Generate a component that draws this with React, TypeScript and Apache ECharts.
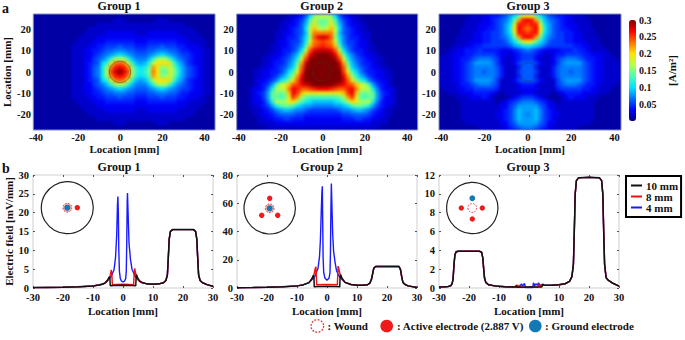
import React, { useEffect, useRef } from "react";
import * as echarts from "echarts";

const FONT = "'Liberation Serif','Times New Roman',serif";
const xCats = ["-40","-38","-36","-34","-32","-30","-28","-26","-24","-22","-20","-18","-16","-14","-12","-10","-8","-6","-4","-2","0","2","4","6","8","10","12","14","16","18","20","22","24","26","28","30","32","34","36","38","40","42","44"];
const xCats3 = xCats.slice(0, 42);
const yCats = ["-26","-24","-22","-20","-18","-16","-14","-12","-10","-8","-6","-4","-2","0","2","4","6","8","10","12","14","16","18","20","22","24","26"];

// Current density in hundredths of A/m², one base-36 digit per cell, rows from y=26 down to y=-26.
const field1 = [
  "111111111111 1111 1 1111111 111 1111111 111111111",
  "111111111111 1111 1 1122211 111 1122211 111111111",
  "111111111111 1112 2 2222222 222 2222222 221111111",
  "111111111111 1222 2 2222222 222 2222222 222211111",
  "111111111111 2222 2 3333333 222 3333333 222221111",
  "111111111112 2223 3 3333333 333 3333333 332222111",
  "111111111122 2233 3 4444444 333 4444444 333222211",
  "111111111222 2334 4 5556555 444 5556555 443332211",
  "111111111222 3344 5 6677766 555 6677766 544333221",
  "111111111222 3345 6 789a987 666 789a987 655433221",
  "111111111222 3356 7 9cgggc9 777 9cgggc9 765433221",
  "111111111222 3456 a cinonic 989 chkkkic 975433221",
  "111111111222 3467 b gnqrqng bab emjfgie a86543221",
  "111111111222 3467 b gpsuspg cbc fnkeeif b86543221",
  "111111111222 3467 b gnqrqng bab emjfgie a86543221",
  "111111111222 3456 a cinonic 989 chkkkic 975433221",
  "111111111222 3356 7 9cgggc9 777 9cgggc9 765433221",
  "111111111222 3345 6 789a987 666 789a987 655433221",
  "111111111222 3344 5 6677766 555 6677766 544333221",
  "111111111222 2334 4 5556555 444 5556555 443332211",
  "111111111122 2233 3 4444444 333 4444444 333222211",
  "111111111112 2223 3 3333333 333 3333333 332222111",
  "111111111111 2222 2 3333333 222 3333333 222221111",
  "111111111111 1222 2 2222222 222 2222222 222211111",
  "111111111111 1112 2 2222222 222 2222222 221111111",
  "111111111111 1111 1 1122211 111 1122211 111111111",
  "111111111111 1111 1 1111111 111 1111111 111111111",
];
const field2 = [
  "11111111111122346afh hhfa64322 11111111111111",
  "11111111111223458dif efid854322 1111111111111",
  "11111111112233469fjf efjf9643322 111111111111",
  "1111111111223456ahli gilha654322 111111111111",
  "11111111122334569hnn nnnh96543322 11111111111",
  "11111111122344 57agor sroga7544322 11111111111",
  "11111111123345 57bino ponib7554332 11111111111",
  "111111112233 4568dlop qpold86543322 1111111111",
  "11111111223445 7ahors ssroha7544322 1111111111",
  "111111122334579emrtu uutrme97543322 111111111",
  "1111112233 4568biptuu uuutpib86543322 11111111",
  "11111122344579emsuuu uuuusme97544322 11111111",
  "11111223345 68agotuuu uuuutoga86543322 1111111",
  "11112233445 7adjpuuuu uuuuupjda75443322 111111",
  "11112233457 9cgmruuuu uuuuurmgc97543322 111111",
  "111123345 7acfjosuuuu uuuuusojfca754332 111111",
  "111123458dhiloprstuu uuutsrpolihd85432 111111",
  "11123347bghinrqoopqr rrqpooqrnihgb74332 11111",
  "11123458efeflrpljjjj jjjjjlprlfefe85432 11111",
  "11123358eedejpmgeddd ddddegmpjedee85332 11111",
  "11123347bhggjkgdba99 999abdgkjgghb74332 11111",
  "111223458bdeeda98877 777889adeedb854322 11111",
  "11112234578998776555 55556778998754322 111111",
  "11112233456666554444 44444556666543322 111111",
  "11111223344554443333 3333344455443322 1111111",
  "11111222233333333333 3333333333332222 1111111",
  "11111112222222222222 22222222222222 111111111",
];
const field3 = [
  "11111112223344568aei kiea8654433222 11111111",
  "1111112222334 5679emq rqme976543 32222 1111111",
  "111111222333456 8aiqq pqqia8654333222 1111111",
  "1111122223344568bkrp nprkb86544332222 111111",
  "11111222334455 68aiqq pqqia86554433222 111111",
  "11112222334455679emq rqme9765544332222 11111",
  "11112223334455568aei kiea8655544333222 11111",
  "11122233445555556 89a ba9865555554433222 1111",
  "11223344454444333456 7654333344454432222 111",
  "12233344555554332345 5543223445555443332211",
  "22233445677765322345 5532223567776544332221",
  "22233456888875322356 6653223578888654332222",
  "22233456777776422246 6642224677777654332222",
  "22233456776776422256 6652224677677654332222",
  "22233456777776422246 6642224677777654332222",
  "22233456888875222356 6653222578888654332222",
  "22223445677765222234 4432222567776544322221",
  "12223344555554222233 3332222455555443322211",
  "11222333444432122223 3322221234444333222111",
  "11112223334321112345 5543211123433322211111",
  "11111222222221234567 7765432122222222 111111",
  "11111222222222335688 8886533222222222 111111",
  "11111222222222345798 8897543222222222 111111",
  "11111222222223345798 7897543322222222 111111",
  "11111222222222345798 8897543222222222 111111",
  "11111122222222335688 8886533222222221 111111",
  "11111111122222234567 7765432222221111 111111",
];

const g1Left: number[][] = [[-30,.1],[-25,.15],[-20,.2],[-15,.3],[-10,.55],[-8,.8],[-7,1],[-6,1.3]];
const g1Right: number[][] = [[8,1.1],[10,1],[12,1.1],[13.5,1.4],[14.3,2],[14.8,3.5],[15.1,8],[15.4,13],[15.8,15],[16.5,15.5],[20,15.5],[23.5,15.5],[24.2,15],[24.6,13],[24.9,8],[25.2,3.5],[25.7,2],[26.5,1.4],[28,.9],[30,.45]];
const g1Black = [...g1Left,[-5.3,1.9],[-4.8,2.6],[-4.5,3],[-4.35,2.4],[-4.25,.6],[-3,.65],[0,.75],[3,.65],[4.25,.6],[4.35,2.4],[4.5,3.6],[4.8,2.8],[5.5,1.9],[6.5,1.4],...g1Right];
const g1Red = [...g1Left,[-5,2],[-4.3,3.2],[-3.9,4.8],[-3.7,3.5],[-3.55,.9],[-2,.95],[0,1],[2,.95],[3.55,.9],[3.7,3.5],[3.9,5.2],[4.3,3.5],[5,2.2],[6,1.5],...g1Right];
const g1Blue = [...g1Left,[-5,2.1],[-4,3],[-3,4.8],[-2.5,8],[-2.1,14],[-1.85,22],[-1.7,24.3],[-1.55,20],[-1.4,10],[-1.2,4.5],[-.9,2.5],[-.5,1.8],[0,1.6],[.5,1.8],[.9,2.5],[1.1,4.5],[1.25,12],[1.4,23],[1.5,25.2],[1.7,20],[2,12],[2.5,7.5],[3,5],[4,3.2],[5,2.2],[6,1.5],...g1Right];

const g2Left: number[][] = [[-30,.2],[-25,.3],[-20,.5],[-15,.8],[-10,1.5],[-8,2.2],[-6,3.8]];
const g2Right: number[][] = [[10,1.9],[12,1.9],[13.5,2.3],[14.3,3.5],[14.8,6],[15.1,9],[15.6,14],[16.2,15.2],[20,15.2],[24,15.2],[24.5,13],[24.9,8],[25.3,4],[26,2.5],[27,1.5],[30,.4]];
const g2Black = [...g2Left,[-5.2,6],[-4.7,8],[-4.5,9],[-4.35,7],[-4.25,.8],[-3,1],[0,1.2],[3,1],[4.25,.8],[4.35,7],[4.5,9.5],[5,7],[6,4],[8,2.5],...g2Right];
const g2Red = [...g2Left,[-5,6.5],[-4.3,10],[-3.9,14],[-3.7,15],[-3.55,8],[-3.45,2.3],[0,2.6],[3.45,2.3],[3.55,8],[3.7,15.5],[3.9,14],[4.3,10],[5,6.5],[6,4],[8,2.5],...g2Right];
const g2Blue = [...g2Left,[-5,6],[-4,8.5],[-3,14],[-2.5,22],[-2.2,34],[-1.9,55],[-1.7,68],[-1.55,72],[-1.45,50],[-1.3,22],[-1.1,11],[-.7,7],[0,5.5],[.7,7],[1,11],[1.15,25],[1.3,55],[1.45,74],[1.6,62],[1.9,38],[2.2,26],[2.7,18],[3.2,12],[4,8.5],[5,6],[6,4],[8,2.5],...g2Right];

const g3Left: number[][] = [[-30,.1],[-28,.12],[-27,.15],[-26,.25],[-25.6,.5],[-25.3,1],[-25,2.5],[-24.7,3.5],[-24.3,3.85],[-23.5,3.9],[-20,3.9],[-16.5,3.9],[-15.8,3.8],[-15.4,3.2],[-15.1,2],[-14.8,1],[-14.4,.6],[-13.5,.35],[-11,.2],[-8,.13]];
const g3Right: number[][] = [[7,.28],[10,.35],[12,.45],[13.5,.7],[14.3,1.2],[14.8,2.5],[15.1,6],[15.4,10],[15.8,11.4],[16.5,11.7],[20,11.75],[23.5,11.7],[24.2,11.4],[24.6,10],[24.9,6],[25.2,2.5],[25.7,1.1],[26.5,.8],[28,.5],[30,.2]];
const g3Black = [...g3Left,[-5,.1],[-4.5,.14],[-4.3,.25],[-4.1,.08],[0,.1],[4.2,.1],[4.4,.2],[4.6,.42],[5,.3],...g3Right];
const g3Red = [...g3Left,[-4.6,.1],[-4,.32],[-3.6,.12],[-3.2,.3],[-2.9,.1],[0,.08],[2.9,.1],[3.3,.35],[3.7,.15],[4.1,.38],[5,.3],...g3Right];
const g3Blue = [...g3Left,[-5,.1],[-3,.2],[-2.5,.45],[-2.2,.2],[-1.8,.35],[-1.5,.5],[-1.2,.05],[1.2,.05],[1.5,.55],[1.9,.25],[2.3,.45],[2.8,.3],[3.2,.55],[3.6,.3],[5,.3],...g3Right];

const jet = ["#00007f","#0000ff","#0071ff","#00e3ff","#4cffb3","#b3ff4c","#ffe300","#ff7100","#ff0000","#7f0000"];
const seriesNames = ["4 mm","8 mm","10 mm"];
const seriesColors = ["#1a1aff","#f01010","#111111"];
const titles = ["Group 1","Group 2","Group 3"];

function decode(rows: string[]) {
  const out: number[][] = [];
  rows.forEach((row, r) => {
    row.split(" ").join("").split("").forEach((c, i) => {
      out.push([i, rows.length - 1 - r, parseInt(c, 36) / 100]);
    });
  });
  return out;
}

const txt = (size = 10.5) => ({ fontFamily: FONT, fontWeight: "bold" as const, fontSize: size, color: "#111" });
const heatBoxes = [
  { left: 33.3, width: 181.7, cats: xCats },
  { left: 236.7, width: 181, cats: xCats },
  { left: 439, width: 182, cats: xCats3 },
];
const clip = "path('" + heatBoxes.map((b) => `M${b.left} 14h${b.width}v116h${-b.width}z`).join(" ") + "')";

export default function App() {
  const heatRef = useRef<HTMLDivElement>(null);
  const ref = useRef<HTMLDivElement>(null);
  useEffect(() => {
    // Heat maps sit on their own softened layer, everything else on a crisp layer above.
    const heat = echarts.init(heatRef.current!, undefined, { renderer: "svg" });
    heat.setOption({
      animation: false,
      backgroundColor: "#0000a0",
      grid: heatBoxes.map((b) => ({ left: b.left, width: b.width, top: 14, height: 116 })),
      xAxis: heatBoxes.map((b, i) => ({ type: "category", gridIndex: i, data: b.cats, show: false })),
      yAxis: heatBoxes.map((_, i) => ({ type: "category", gridIndex: i, data: yCats, show: false })),
      visualMap: { type: "continuous", show: false, min: 0, max: 0.3, inRange: { color: jet } },
      series: [field1, field2, field3].map((f, i) => ({
        type: "heatmap", xAxisIndex: i, yAxisIndex: i, data: decode(f), silent: true, progressive: 0,
        emphasis: { disabled: true }, itemStyle: { borderWidth: 0 },
      })),
    });

    const chart = echarts.init(ref.current!, undefined, { renderer: "svg" });
    const lineBoxes = [
      { left: 33, max: 30, interval: 5, name: "Electric field [mV/mm]" },
      { left: 237, max: 80, interval: 20, name: "" },
      { left: 439, max: 12, interval: 2, name: "" },
    ];
    const grid: any[] = [];
    const xAxis: any[] = [];
    const yAxis: any[] = [];
    heatBoxes.forEach((b, i) => {
      grid.push({ left: b.left, width: b.width, top: 14, height: 116 });
      xAxis.push({
        type: "category", gridIndex: i, data: b.cats, name: "Location [mm]", nameLocation: "middle", nameGap: 12,
        nameTextStyle: txt(11), axisLine: { show: false }, axisTick: { show: false },
        axisLabel: { ...txt(), margin: 2, interval: (_: number, v: string) => Number(v) % 20 === 0, hideOverlap: false },
      });
      yAxis.push({
        type: "category", gridIndex: i, data: yCats, name: i === 0 ? "Location [mm]" : "", nameLocation: "middle", nameGap: 22,
        nameTextStyle: txt(11), axisLine: { show: false }, axisTick: { show: false },
        axisLabel: { ...txt(), margin: 3, interval: (_: number, v: string) => Number(v) % 10 === 0 },
      });
    });
    const tick = { inside: true, length: 2, lineStyle: { color: "#555" } };
    lineBoxes.forEach((b, i) => {
      grid.push({ left: b.left, width: 180, top: 175, height: 113, show: true, borderColor: "#cfcfcf", borderWidth: 1 });
      xAxis.push({
        type: "value", gridIndex: i + 3, min: -30, max: 30, interval: 10, name: "Location [mm]", nameLocation: "middle", nameGap: 17,
        nameTextStyle: txt(11), splitLine: { show: false }, axisLine: { show: false, onZero: false },
        axisTick: tick, axisLabel: { ...txt(), margin: 4 },
      });
      yAxis.push({
        type: "value", gridIndex: i + 3, min: 0, max: b.max, interval: b.interval, name: b.name, nameLocation: "middle", nameGap: 18,
        nameTextStyle: txt(11), splitLine: { show: false }, axisLine: { show: false, onZero: false },
        axisTick: tick, axisLabel: { ...txt(), margin: 4 },
      });
    });
    // colour-bar scale
    grid.push({ left: 629, width: 7, top: 20, height: 101 });
    xAxis.push({ type: "value", gridIndex: 6, show: false, min: 0, max: 1 });
    yAxis.push({
      type: "value", gridIndex: 6, position: "right", min: 0, max: 0.3, interval: 0.05,
      name: "[A/m²]", nameLocation: "middle", nameGap: 30, nameRotate: 90, nameTextStyle: txt(11),
      splitLine: { show: false }, axisLine: { show: false }, axisTick: { show: false },
      axisLabel: { ...txt(10), margin: 3, formatter: (v: number) => (v === 0 ? "" : String(Number(v.toFixed(2)))) },
    });
    // matching ticks on the far sides of the line plots
    lineBoxes.forEach((b, i) => {
      xAxis.push({ type: "value", gridIndex: i + 3, position: "top", min: -30, max: 30, interval: 10, axisLabel: { show: false }, axisLine: { show: false, onZero: false }, axisTick: tick, splitLine: { show: false } });
      yAxis.push({ type: "value", gridIndex: i + 3, position: "right", min: 0, max: b.max, interval: b.interval, axisLabel: { show: false }, axisLine: { show: false, onZero: false }, axisTick: tick, splitLine: { show: false } });
    });

    const lineSets = [[g1Blue, g1Red, g1Black], [g2Blue, g2Red, g2Black], [g3Blue, g3Red, g3Black]];
    const lineSeries: any[] = [];
    lineSets.forEach((set, i) => set.forEach((d, j) => lineSeries.push({
      type: "line", name: seriesNames[j], xAxisIndex: i + 3, yAxisIndex: i + 3, data: d, showSymbol: false, silent: true,
      color: seriesColors[j], lineStyle: { width: j === 2 ? 1.5 : 1.4, color: seriesColors[j] },
    })));

    const circle = (cx: number, cy: number, r: number, style: any) => ({ type: "circle", z: 50, silent: true, shape: { cx, cy, r }, style });
    const seg = (x1: number, y1: number, x2: number, y2: number) => ({ type: "line", z: 49, silent: true, shape: { x1, y1, x2, y2 }, style: { stroke: "#35c27a", lineWidth: 1.6, lineDash: [3, 2] } });
    const red = { fill: "#f01a1a" };
    const blue = { fill: "#1379b5" };
    const wound = { fill: "#f4b0b0", stroke: "#e03030", lineWidth: 1, lineDash: [1.5, 1.5] };
    const woundOpen = { fill: "none", stroke: "#e03030", lineWidth: 1, lineDash: [1.5, 1.5] };
    const ring = { fill: "#fff", stroke: "#222", lineWidth: 1.2 };
    const label = (x: number, text: string) => ({ type: "text", z: 50, silent: true, x, y: 326, style: { text, fontFamily: FONT, fontWeight: "bold", fontSize: 11, fill: "#111", verticalAlign: "middle" } });
    const frame = (b: { left: number; width: number }) => ({ type: "rect", z: 40, silent: true, shape: { x: b.left, y: 14, width: b.width, height: 116 }, style: { fill: "none", stroke: "#7f8cc0", lineWidth: 1 } });

    const elements: any[] = [
      ...heatBoxes.map(frame),
      circle(120, 72, 10.7, { fill: "none", stroke: "#332", lineWidth: 0.4 }),
      circle(321.7, 71.7, 9.3, { fill: "none", stroke: "#432", lineWidth: 0.4 }),
      circle(528.3, 72, 9.3, { fill: "none", stroke: "#1a3a5a", lineWidth: 0.5 }),
      circle(67.3, 207.7, 26, ring), seg(56, 207.7, 86, 207.7), circle(67.3, 207.7, 4.4, wound), circle(67.3, 207.7, 3, blue), circle(77.3, 207.7, 2.7, red),
      circle(269.7, 208.3, 25.7, ring), seg(269.7, 191.7, 269.7, 216), circle(269.7, 208.3, 4.4, wound), circle(269.7, 208.3, 3, blue), circle(269.7, 198.3, 2.7, red), circle(261.7, 215.3, 2.7, red), circle(277.7, 215.3, 2.7, red),
      circle(472.3, 208, 25.7, ring), seg(472.3, 193, 472.3, 213), circle(472.3, 208, 4.4, woundOpen), circle(472.3, 198.3, 2.9, blue), circle(461.3, 208, 2.7, red), circle(482.3, 208, 2.7, red), circle(472.3, 219, 2.7, red),
      circle(317.3, 326, 6.3, { fill: "#fff", stroke: "#e03030", lineWidth: 1.3, lineDash: [1.8, 1.5] }), label(327.5, ": Wound"),
      circle(386.7, 326, 6.3, red), label(397, ": Active electrode (2.887 V)"),
      circle(535.3, 326, 6.3, blue), label(545, ": Ground electrode"),
    ];

    const titleCx = [119, 321.7, 528];
    const title: any[] = [
      ...titles.map((t, i) => ({ text: t, left: titleCx[i], top: 0, textAlign: "center", padding: 0, textStyle: txt(12) })),
      ...titles.map((t, i) => ({ text: t, left: titleCx[i], top: 161, textAlign: "center", padding: 0, textStyle: txt(12) })),
      { text: "a", left: 2, top: 1, padding: 0, textStyle: txt(14) },
      { text: "b", left: 2, top: 161, padding: 0, textStyle: txt(14) },
    ];

    chart.setOption({
      animation: false,
      backgroundColor: "transparent",
      title, grid, xAxis, yAxis,
      graphic: { elements },
      visualMap: {
        type: "continuous", seriesIndex: [], min: 0, max: 0.3, left: 629, top: 20, itemWidth: 7, itemHeight: 101,
        padding: 0, calculable: false, hoverLink: false, realtime: false, text: ["", ""], inRange: { color: jet },
      },
      legend: {
        data: ["10 mm", "8 mm", "4 mm"], orient: "vertical", left: 626, top: 176, width: 56, selectedMode: false,
        icon: "rect", itemWidth: 11, itemHeight: 2, itemGap: 0, padding: [4, 3, 4, 5], borderColor: "#000", borderWidth: 2,
        textStyle: { ...txt(11), lineHeight: 9.3, padding: [0, 0, 0, -1] },
      },
      series: lineSeries,
    });
    return () => { chart.dispose(); heat.dispose(); };
  }, []);
  return (
    <div style={{ position: "absolute", left: 0, top: 0, width: 685, height: 340, background: "#fff" }}>
      <div style={{ position: "absolute", left: 0, top: 0, width: 685, height: 340, clipPath: clip }}>
        <div ref={heatRef} style={{ position: "absolute", left: 0, top: 0, width: 685, height: 340, filter: "blur(1.7px)" }} />
      </div>
      <div ref={ref} style={{ position: "absolute", left: 0, top: 0, width: 685, height: 340 }} />
    </div>
  );
}
